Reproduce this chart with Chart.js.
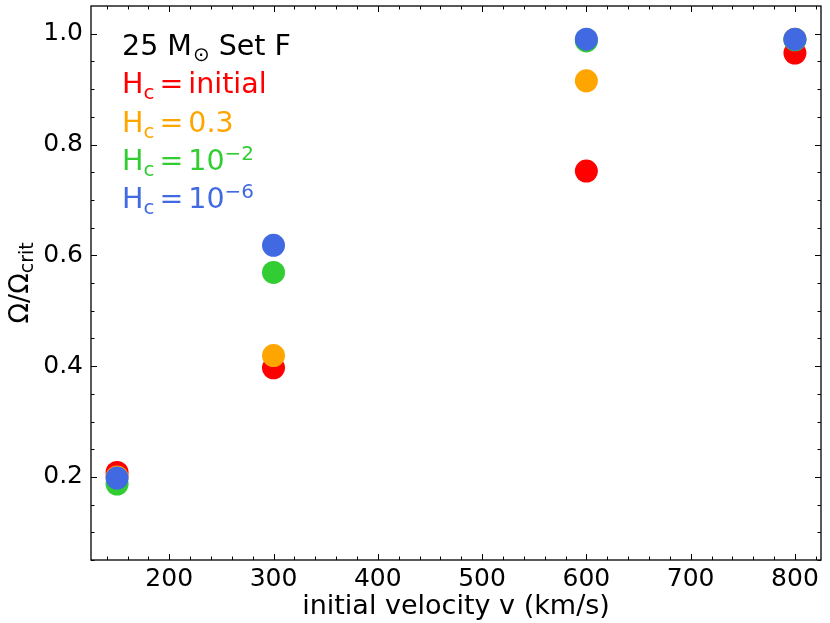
<!DOCTYPE html>
<html>
<head>
<meta charset="utf-8">
<script src="https://cdn.jsdelivr.net/npm/chart.js@4.4.0/dist/chart.umd.min.js"></script>
<style>
  html, body { margin: 0; padding: 0; background: #fff; }
  #wrap { width: 830px; height: 623px; }
</style>
</head>
<body>
<div id="wrap"><canvas id="myChart"></canvas></div>
<script>
// initial rotation velocities (km/s)
var velocities = [150, 300, 600, 800];

// Omega / Omega_crit for each central hydrogen value
var hcInitial = [0.208, 0.397, 0.752, 0.965];
var hc03 = [0.200, 0.419, 0.915, 0.990];
var hc1e2 = [0.187, 0.569, 0.987, 0.989];
var hc1e6 = [0.198, 0.618, 0.990, 0.990];

var xTicks = [200, 300, 400, 500, 600, 700, 800];
var yTicks = [0.2, 0.4, 0.6, 0.8, 1.0];

var FONT = "'DejaVu Sans', sans-serif";

function points(ys) {
  return velocities.map(function(v, i) {
    return { x: v, y: ys[i] };
  });
}

// pieces: ['text', 'n'|'sub'|'sup'] or a number (gap in px)
function richWidth(ctx, parts, size) {
  var w = 0;
  parts.forEach(function(p) {
    if (typeof p === 'number') { w += p; return; }
    var s = p[1] === 'n' ? size : size * 0.7;
    ctx.font = s + 'px ' + FONT;
    w += ctx.measureText(p[0]).width;
  });
  return w;
}

function drawRich(ctx, x, y, parts, size, color) {
  ctx.fillStyle = color;
  ctx.textBaseline = 'alphabetic';
  ctx.textAlign = 'left';
  parts.forEach(function(p) {
    if (typeof p === 'number') { x += p; return; }
    var s = size, dy = 0;
    if (p[1] === 'sub') { s = size * 0.7; dy = size * 0.2; }
    if (p[1] === 'sup') { s = size * 0.7; dy = -size * 0.34; }
    ctx.font = s + 'px ' + FONT;
    ctx.fillText(p[0], x, y + dy);
    x += ctx.measureText(p[0]).width;
  });
}

function noPad(scale) {
  scale.paddingTop = 0;
  scale.paddingBottom = 0;
  scale.paddingLeft = 0;
  scale.paddingRight = 0;
}

var framePlugin = {
  id: 'frame',
  afterDraw: function(chart) {
    var ctx = chart.ctx;
    var a = chart.chartArea;
    var xs = chart.scales.x, ys = chart.scales.y;
    ctx.save();
    ctx.strokeStyle = '#000';
    ctx.lineWidth = 1.3;
    ctx.strokeRect(a.left, a.top, a.right - a.left, a.bottom - a.top);

    ctx.lineWidth = 1;
    ctx.beginPath();
    // x ticks, inward on bottom and top
    for (var v = 140; v <= 820; v += 20) {
      var len = v % 100 === 0 ? 6 : 3.5;
      var px = Math.round(xs.getPixelForValue(v)) + 0.5;
      ctx.moveTo(px, a.bottom); ctx.lineTo(px, a.bottom - len);
      ctx.moveTo(px, a.top); ctx.lineTo(px, a.top + len);
    }
    // y ticks, inward on left and right
    for (var k = 1; k <= 20; k++) {
      var val = k * 0.05;
      var l2 = k % 4 === 0 ? 6 : 3.5;
      var py = Math.round(ys.getPixelForValue(val)) + 0.5;
      ctx.moveTo(a.left, py); ctx.lineTo(a.left + l2, py);
      ctx.moveTo(a.right, py); ctx.lineTo(a.right - l2, py);
    }
    ctx.stroke();

    // y axis title with subscript
    var yparts = [['\u03A9/\u03A9', 'n'], ['crit', 'sub']];
    var ysz = 27;
    var w = richWidth(ctx, yparts, ysz);
    ctx.translate(28, (a.top + a.bottom) / 2);
    ctx.rotate(-Math.PI / 2);
    drawRich(ctx, -w / 2, 0, yparts, ysz, '#000');
    ctx.restore();

    // annotation block
    ctx.save();
    var lx = 122, size = 28.5;
    drawRich(ctx, lx, 55, [['25 M', 'n'], 1, ['\u2299', 'sub'], [' Set F', 'n']], size, '#000');
    var hc = [['H', 'n'], ['c', 'sub'], 5, ['=', 'n'], 5];
    drawRich(ctx, lx, 93, hc.concat([['initial', 'n']]), size, '#ff0000');
    drawRich(ctx, lx, 132, hc.concat([['0.3', 'n']]), size, '#ffa500');
    drawRich(ctx, lx, 170, hc.concat([['10', 'n'], ['\u22122', 'sup']]), size, '#32cd32');
    drawRich(ctx, lx, 208, hc.concat([['10', 'n'], ['\u22126', 'sup']]), size, '#4169e1');
    ctx.restore();
  }
};

var ctx = document.getElementById('myChart').getContext('2d');

var myChart = new Chart(ctx, {
  type: 'scatter',
  data: {
    datasets: [
      { label: 'Hc = initial', data: points(hcInitial), backgroundColor: '#ff0000', order: 4 },
      { label: 'Hc = 0.3', data: points(hc03), backgroundColor: '#ffa500', order: 3 },
      { label: 'Hc = 1e-2', data: points(hc1e2), backgroundColor: '#32cd32', order: 2 },
      { label: 'Hc = 1e-6', data: points(hc1e6), backgroundColor: '#4169e1', order: 1 },
    ],
  },
  options: {
    responsive: true,
    maintainAspectRatio: false,
    animation: false,
    layout: { autoPadding: false, padding: { top: 6, right: 9, left: 0, bottom: 0 } },
    elements: {
      point: { radius: 11.5, hoverRadius: 11.5, borderWidth: 0 },
    },
    plugins: {
      legend: { display: false },
      tooltip: { enabled: false },
    },
    scales: {
      x: {
        type: 'linear',
        min: 125,
        max: 825,
        afterBuildTicks: function(scale) {
          scale.ticks = xTicks.map(function(v) { return { value: v }; });
        },
        afterFit: function(scale) { scale.height = 63; noPad(scale); },
        grid: { display: false, drawTicks: false },
        border: { display: false },
        ticks: {
          color: '#000',
          padding: 4,
          maxRotation: 0,
          font: { family: FONT, size: 25 },
        },
        title: {
          display: true,
          text: 'initial velocity v (km/s)',
          color: '#000',
          padding: { top: 0, bottom: 0 },
          font: { family: FONT, size: 27 },
        },
      },
      y: {
        min: 0.05,
        max: 1.05,
        afterBuildTicks: function(scale) {
          scale.ticks = yTicks.map(function(v) { return { value: v }; });
        },
        afterFit: function(scale) { scale.width = 91; noPad(scale); },
        grid: { display: false, drawTicks: false },
        border: { display: false },
        ticks: {
          color: '#000',
          padding: 8,
          font: { family: FONT, size: 25 },
          callback: function(v) { return v.toFixed(1); },
        },
      },
    },
  },
  plugins: [framePlugin],
});
</script>
</body>
</html>
